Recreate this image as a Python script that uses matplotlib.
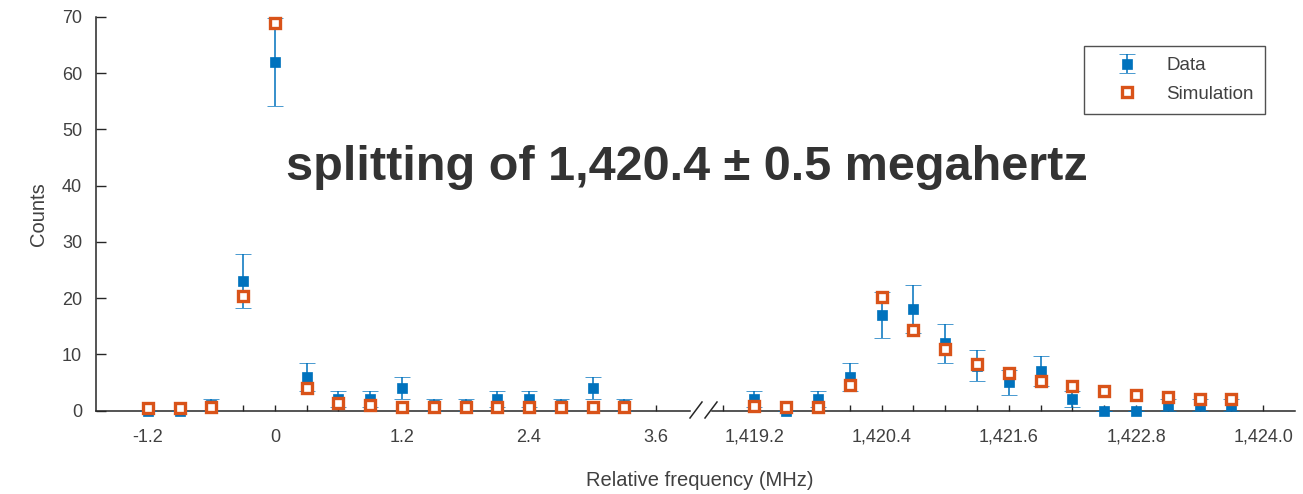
import numpy as np
import matplotlib
matplotlib.use('Agg')
import matplotlib.pyplot as plt
from matplotlib.lines import Line2D
from matplotlib.ticker import FixedLocator, FixedFormatter

# --- data ---
freq_left = [-1.2, -0.9, -0.6, -0.3, 0.0, 0.3, 0.6, 0.9, 1.2, 1.5, 1.8, 2.1, 2.4, 2.7, 3.0, 3.3]
data_left = [0, 0, 1, 23, 62, 6, 2, 2, 4, 1, 1, 2, 2, 1, 4, 1]
sim_left = [0.5, 0.5, 0.6, 20.4, 68.9, 4.0, 1.4, 0.9, 0.7, 0.7, 0.7, 0.6, 0.6, 0.6, 0.6, 0.6]

freq_right = [1419.2, 1419.5, 1419.8, 1420.1, 1420.4, 1420.7, 1421.0, 1421.3,
              1421.6, 1421.9, 1422.2, 1422.5, 1422.8, 1423.1, 1423.4, 1423.7]
data_right = [2, 0, 2, 6, 17, 18, 12, 8, 5, 7, 2, 0, 0, 1, 1, 1]
sim_right = [0.8, 0.6, 0.6, 4.6, 20.2, 14.3, 10.9, 8.2, 6.6, 5.3, 4.3, 3.4, 2.8, 2.4, 2.1, 2.1]

ticks_left = [-1.2, 0.0, 1.2, 2.4, 3.6]
labels_left = ['-1.2', '0', '1.2', '2.4', '3.6']
ticks_right = [1419.2, 1420.4, 1421.6, 1422.8, 1424.0]
labels_right = ['1,419.2', '1,420.4', '1,421.6', '1,422.8', '1,424.0']

blue = '#0072BD'
orange = '#D95319'
axcol = '#262626'
txtcol = '#404040'

plt.rcParams['font.family'] = ['Liberation Sans', 'DejaVu Sans']

W, H = 1303, 494
fig = plt.figure(figsize=(W / 100, H / 100), dpi=100)

def px_ax(x0, x1, y0=17, y1=410.5):
    return [x0 / W, 1 - y1 / H, (x1 - x0) / W, (y1 - y0) / H]

ax1 = fig.add_axes(px_ax(96, 690))
ax2 = fig.add_axes(px_ax(712, 1295))


def draw(ax, x, d, s):
    # Poisson error bars: sqrt(N)
    err = np.sqrt(np.array(d, dtype=float))
    eb = ax.errorbar(x, d, yerr=err, fmt='s', color=blue, mec=blue, ms=6.6, mew=0.5,
                     elinewidth=1.1, capsize=6, capthick=1.2, zorder=3, clip_on=False)
    sc, = ax.plot(x, s, 's', mfc='white', mec=orange, ms=7.5, mew=2.4,
                  zorder=4, clip_on=False)
    return eb, sc


eb, sc = draw(ax1, freq_left, data_left, sim_left)
draw(ax2, freq_right, data_right, sim_right)

ax1.set_xlim(-1.69, 3.92)
ax2.set_xlim(1418.80, 1424.30)
for ax in (ax1, ax2):
    ax.set_ylim(0, 70)
    ax.spines['top'].set_visible(False)
    ax.spines['right'].set_visible(False)
    ax.spines['bottom'].set_color(axcol)
    ax.spines['left'].set_color(axcol)
    ax.spines['bottom'].set_linewidth(1.1)
    ax.spines['left'].set_linewidth(1.1)
    ax.tick_params(axis='x', which='both', direction='in', length=4.5, width=1,
                   color=axcol, labelcolor=txtcol, labelsize=13, pad=13)

ax1.xaxis.set_major_locator(FixedLocator(ticks_left))
ax1.xaxis.set_major_formatter(FixedFormatter(labels_left))
ax1.xaxis.set_minor_locator(FixedLocator(freq_left + [3.6]))
ax2.xaxis.set_major_locator(FixedLocator(ticks_right))
ax2.xaxis.set_major_formatter(FixedFormatter(labels_right))
ax2.xaxis.set_minor_locator(FixedLocator([1418.9] + freq_right + [1424.0]))

ax1.set_yticks(range(0, 71, 10))
ax1.tick_params(axis='y', direction='in', length=7.5, width=1, color=axcol,
                labelcolor=txtcol, labelsize=13, pad=10)
ax1.set_ylabel('Counts', color=txtcol, fontsize=14.5, labelpad=10)

ax2.spines['left'].set_visible(False)
ax2.tick_params(axis='y', left=False, labelleft=False)

# break marks
for xs in ((690, 702), (705, 717)):
    fig.add_artist(Line2D([xs[0] / W, xs[1] / W], [1 - 418 / H, 1 - 402 / H],
                          color=axcol, lw=1.1))

fig.text(700 / W, 1 - 480 / H, 'Relative frequency (MHz)', ha='center', va='center',
         color=txtcol, fontsize=14.5)

fig.text(687 / W, 1 - 167 / H, 'splitting of 1,420.4 \u00b1 0.5 megahertz',
         ha='center', va='center', color='#333333', fontsize=35, fontweight='bold')

leg = fig.legend([eb, sc], ['Data', 'Simulation'], loc='upper right',
                 bbox_to_anchor=(1265 / W, 1 - 46 / H), borderaxespad=0,
                 fancybox=False, edgecolor=axcol, fontsize=13.5, labelcolor=txtcol,
                 handlelength=3.4, handletextpad=0.4, borderpad=0.6, labelspacing=0.6)
leg.get_frame().set_linewidth(1.0)

fig.savefig('out.png', dpi=100)
